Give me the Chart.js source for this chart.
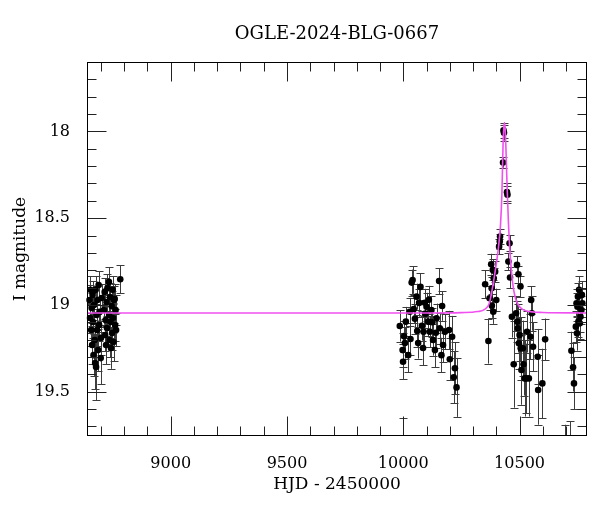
<!DOCTYPE html>
<html><head><meta charset="utf-8">
<script src="https://cdn.jsdelivr.net/npm/chart.js@4.4.0/dist/chart.umd.min.js"></script>
<style>html,body{margin:0;padding:0;background:#fff}canvas{display:block}</style>
</head><body>
<canvas id="c" width="600" height="512" style="width:600px;height:512px"></canvas>
<script>
// Observations (HJD - 2450000, I magnitude, error)
const obsHJD = [
 8651,8653,8655,8658,8660,8662,8664,8666,8668,8670,8673,8675,8677,8679,8681,8683,8685,8688,8690,8692,8694,8699,8700,8703,
 8713,8716,8718,8720,8722,8724,8726,8728,8734,8735,8737,8739,8741,8743,8746,8748,8750,8752,8754,8756,8759,8761,8763,8765,8783,
 9985,9997,9999,10003,10007,10011,10021,10028,10031,10036,10040,10045,10050,10057,10060,10064,10068,10074,10080,10085,10087,
 10093,10095,10100,10107,10110,10114,10121,10125,10128,10136,10140,10143,10154,10157,10164,10167,10171,10179,10197,10200,
 10210,10217,10222,10229,9998,
 10352,10366,10371,10378,10380,10381,10385,10387,10389,10395,10400,10412,10415,10416,10429,10431,10433,10446,10448,10452,
 10457,10459,10467,10475,10485,10489,10490,10492,10495,10497,10500,10504,10505,10508,10514,10517,10522,10528,10532,10540,
 10547,10550,10553,10558,10578,10580,10598,10610,
 10696,10716,10723,10730,10734,10742,10745,10747,10749,10751,10753,10756,10759,10762,10766,10768,10770
];
const obsMag = [
 18.971,19.075,18.913,19.144,19.017,19.231,18.942,19.098,19.289,19.000,19.202,19.335,18.913,19.358,19.058,19.144,18.971,19.260,18.885,19.115,19.040,19.306,19.190,18.960,
 19.029,18.925,19.173,19.087,19.231,18.983,19.133,18.902,18.867,19.058,19.202,18.954,19.098,19.248,19.006,19.162,18.913,19.075,19.214,18.971,18.965,19.115,19.029,19.144,18.852,
 19.121,19.260,19.327,19.180,19.219,19.096,19.289,19.039,19.196,18.871,18.856,19.023,19.080,18.952,19.150,19.219,18.988,18.896,19.120,19.248,19.154,
 18.987,19.050,19.010,19.096,18.970,19.154,19.029,19.100,19.202,19.260,19.160,19.077,18.862,19.134,19.289,19.006,19.231,19.154,19.144,19.313,
 19.183,19.417,19.365,19.475,19.850,
 18.881,19.208,18.961,18.765,18.904,19.004,18.798,19.039,18.846,18.808,18.971,18.664,18.635,18.606,18.179,17.994,18.008,18.350,18.365,18.750,
 18.644,18.842,19.068,19.342,19.048,18.769,19.096,19.134,18.823,19.221,19.173,18.894,19.250,19.375,19.250,19.342,19.423,19.423,19.154,19.423,
 19.183,18.971,19.048,19.241,19.298,19.490,19.452,19.198,
 19.900,19.850,19.264,19.359,19.452,19.125,18.990,19.163,19.010,18.952,19.096,18.913,19.106,19.068,19.029,18.942,18.990
];
const obsErr = [
 0.085,0.085,0.08,0.095,0.085,0.11,0.08,0.09,0.12,0.085,0.10,0.15,0.08,0.19,0.085,0.095,0.08,0.12,0.08,0.09,0.085,0.15,0.10,0.08,
 0.085,0.08,0.095,0.09,0.11,0.08,0.09,0.08,0.085,0.085,0.10,0.08,0.09,0.12,0.085,0.095,0.08,0.085,0.11,0.08,0.085,0.09,0.085,0.095,0.08,
 0.09,0.10,0.10,0.09,0.09,0.085,0.10,0.08,0.09,0.075,0.08,0.08,0.085,0.075,0.09,0.09,0.08,0.08,0.085,0.10,0.09,
 0.08,0.08,0.08,0.085,0.08,0.09,0.08,0.085,0.09,0.10,0.09,0.085,0.075,0.09,0.10,0.085,0.10,0.10,0.11,0.12,
 0.12,0.15,0.15,0.17,0.20,
 0.08,0.13,0.07,0.06,0.065,0.07,0.06,0.07,0.06,0.06,0.065,0.045,0.045,0.045,0.03,0.045,0.045,0.05,0.05,0.05,
 0.045,0.06,0.12,0.25,0.10,0.05,0.12,0.14,0.05,0.15,0.15,0.06,0.18,0.20,0.16,0.18,0.22,0.20,0.12,0.22,
 0.13,0.08,0.10,0.14,0.16,0.20,0.20,0.12,
 0.21,0.18,0.11,0.14,0.15,0.09,0.08,0.10,0.08,0.08,0.09,0.08,0.09,0.085,0.08,0.08,0.08
];
// Model light curve
const modelHJD = [8640,10100,10250,10320,10350,10370,10385,10398,10410,10418,10424,10429,10432,10435,10438,10441,10446,10452,10460,10470,10482,10500,10530,10600,10790];
const modelMag = [19.046,19.046,19.044,19.038,19.025,18.99,18.89,18.78,18.66,18.54,18.36,18.08,17.98,17.95,17.98,18.08,18.30,18.52,18.72,18.87,18.96,19.01,19.035,19.043,19.046];
// Tick labels / positions
const xMajorTicks = [9000,9500,10000,10500];
const xTickLabels = ['9000','9500','10000','10500'];
const xMinorTicks = [8700,8800,8900,9100,9200,9300,9400,9600,9700,9800,9900,10100,10200,10300,10400,10600,10700];
const yMajorTicks = [18,18.5,19,19.5];
const yTickLabels = ['18','18.5','19','19.5'];
const yMinorTicks = [17.7,17.8,17.9,18.1,18.2,18.3,18.4,18.6,18.7,18.8,18.9,19.1,19.2,19.3,19.4,19.6,19.7];

const FONT = "'DejaVu Serif', 'Liberation Serif', serif";
Chart.defaults.font.family = FONT;
Chart.defaults.color = '#000';

const decor = {
  id: 'decor',
  beforeDatasetsDraw(chart) {
    const {ctx, chartArea: a, scales: {x, y}} = chart;
    ctx.save();
    ctx.beginPath(); ctx.rect(a.left, a.top, a.right - a.left, a.bottom - a.top); ctx.clip();
    ctx.strokeStyle = '#3c3c3c'; ctx.lineWidth = 1;
    for (let i = 0; i < obsHJD.length; i++) {
      const px = Math.round(x.getPixelForValue(obsHJD[i])) + 0.5;
      const y1 = y.getPixelForValue(obsMag[i] - obsErr[i]);
      const y2 = y.getPixelForValue(obsMag[i] + obsErr[i]);
      ctx.beginPath();
      ctx.moveTo(px, y1); ctx.lineTo(px, y2);
      ctx.moveTo(px - 4, Math.round(y1) + 0.5); ctx.lineTo(px + 4, Math.round(y1) + 0.5);
      ctx.moveTo(px - 4, Math.round(y2) + 0.5); ctx.lineTo(px + 4, Math.round(y2) + 0.5);
      ctx.stroke();
    }
    ctx.restore();
  },
  afterDraw(chart) {
    const {ctx, chartArea: a, scales: {x, y}} = chart;
    ctx.save();
    ctx.strokeStyle = '#222'; ctx.lineWidth = 1;
    const L = Math.round(a.left) + 0.5, R = Math.round(a.right) - 0.5;
    const T = Math.round(a.top) + 0.5, B = Math.round(a.bottom) - 0.5;
    ctx.beginPath();
    const xt = (v, len) => {
      const p = Math.round(x.getPixelForValue(v)) + 0.5;
      ctx.moveTo(p, B); ctx.lineTo(p, B - len);
      ctx.moveTo(p, T); ctx.lineTo(p, T + len);
    };
    const yt = (v, len) => {
      const p = Math.round(y.getPixelForValue(v)) + 0.5;
      ctx.moveTo(L, p); ctx.lineTo(L + len, p);
      ctx.moveTo(R, p); ctx.lineTo(R - len, p);
    };
    xMajorTicks.forEach(v => xt(v, 19));
    xMinorTicks.forEach(v => xt(v, 9));
    yMajorTicks.forEach(v => yt(v, 19));
    yMinorTicks.forEach(v => yt(v, 9));
    ctx.stroke();
    ctx.strokeStyle = '#000';
    ctx.strokeRect(L, T, R - L, B - T);
    ctx.restore();
  }
};

new Chart(document.getElementById('c'), {
  type: 'scatter',
  data: {
    datasets: [
      {
        type: 'line', label: 'model', order: 0,
        data: modelHJD.map((t, i) => ({x: t, y: modelMag[i]})),
        borderColor: 'rgb(240,80,240)', borderWidth: 1.6,
        pointRadius: 0, fill: false, cubicInterpolationMode: 'monotone'
      },
      {
        label: 'OGLE I', order: 1,
        data: obsHJD.map((t, i) => ({x: t, y: obsMag[i]})),
        backgroundColor: '#000', borderColor: '#000', borderWidth: 0,
        pointRadius: 3.3, clip: {left: 5, right: 5, top: 5, bottom: 0}
      }
    ]
  },
  options: {
    responsive: false, animation: false,
    layout: {padding: {left: 0, right: 13, top: 0, bottom: 0}},
    plugins: {
      legend: {display: false}, tooltip: {enabled: false},
      title: {
        display: true, text: 'OGLE-2024-BLG-0667', fullSize: false,
        font: {family: FONT, size: 18, weight: 'normal'}, color: '#000',
        padding: {top: 24, bottom: 16.4}
      }
    },
    scales: {
      x: {
        type: 'linear', min: 8640, max: 10790,
        afterBuildTicks: s => { s.ticks = xMajorTicks.map(v => ({value: v})); },
        afterFit: s => { s.height = 76; },
        grid: {display: false}, border: {display: false},
        ticks: {font: {family: FONT, size: 16}, color: '#000', padding: 10, maxRotation: 0, autoSkip: false,
                callback: (v) => { const i = xMajorTicks.indexOf(v); return i >= 0 ? xTickLabels[i] : ''; }},
        title: {display: true, text: 'HJD - 2450000', font: {family: FONT, size: 17}, color: '#000', padding: {top: 4, bottom: 17}}
      },
      y: {
        type: 'linear', min: 17.6, max: 19.755, reverse: true,
        afterBuildTicks: s => { s.ticks = yMajorTicks.map(v => ({value: v})); },
        afterFit: s => { s.width = 87; },
        grid: {display: false}, border: {display: false},
        ticks: {font: {family: FONT, size: 16}, color: '#000', padding: 9, autoSkip: false,
                callback: (v) => { const i = yMajorTicks.indexOf(v); return i >= 0 ? yTickLabels[i] : ''; }},
        title: {display: true, text: 'I magnitude', font: {family: FONT, size: 17}, color: '#000', padding: {top: 10, bottom: 0}}
      }
    }
  },
  plugins: [decor]
});
</script>
</body></html>
